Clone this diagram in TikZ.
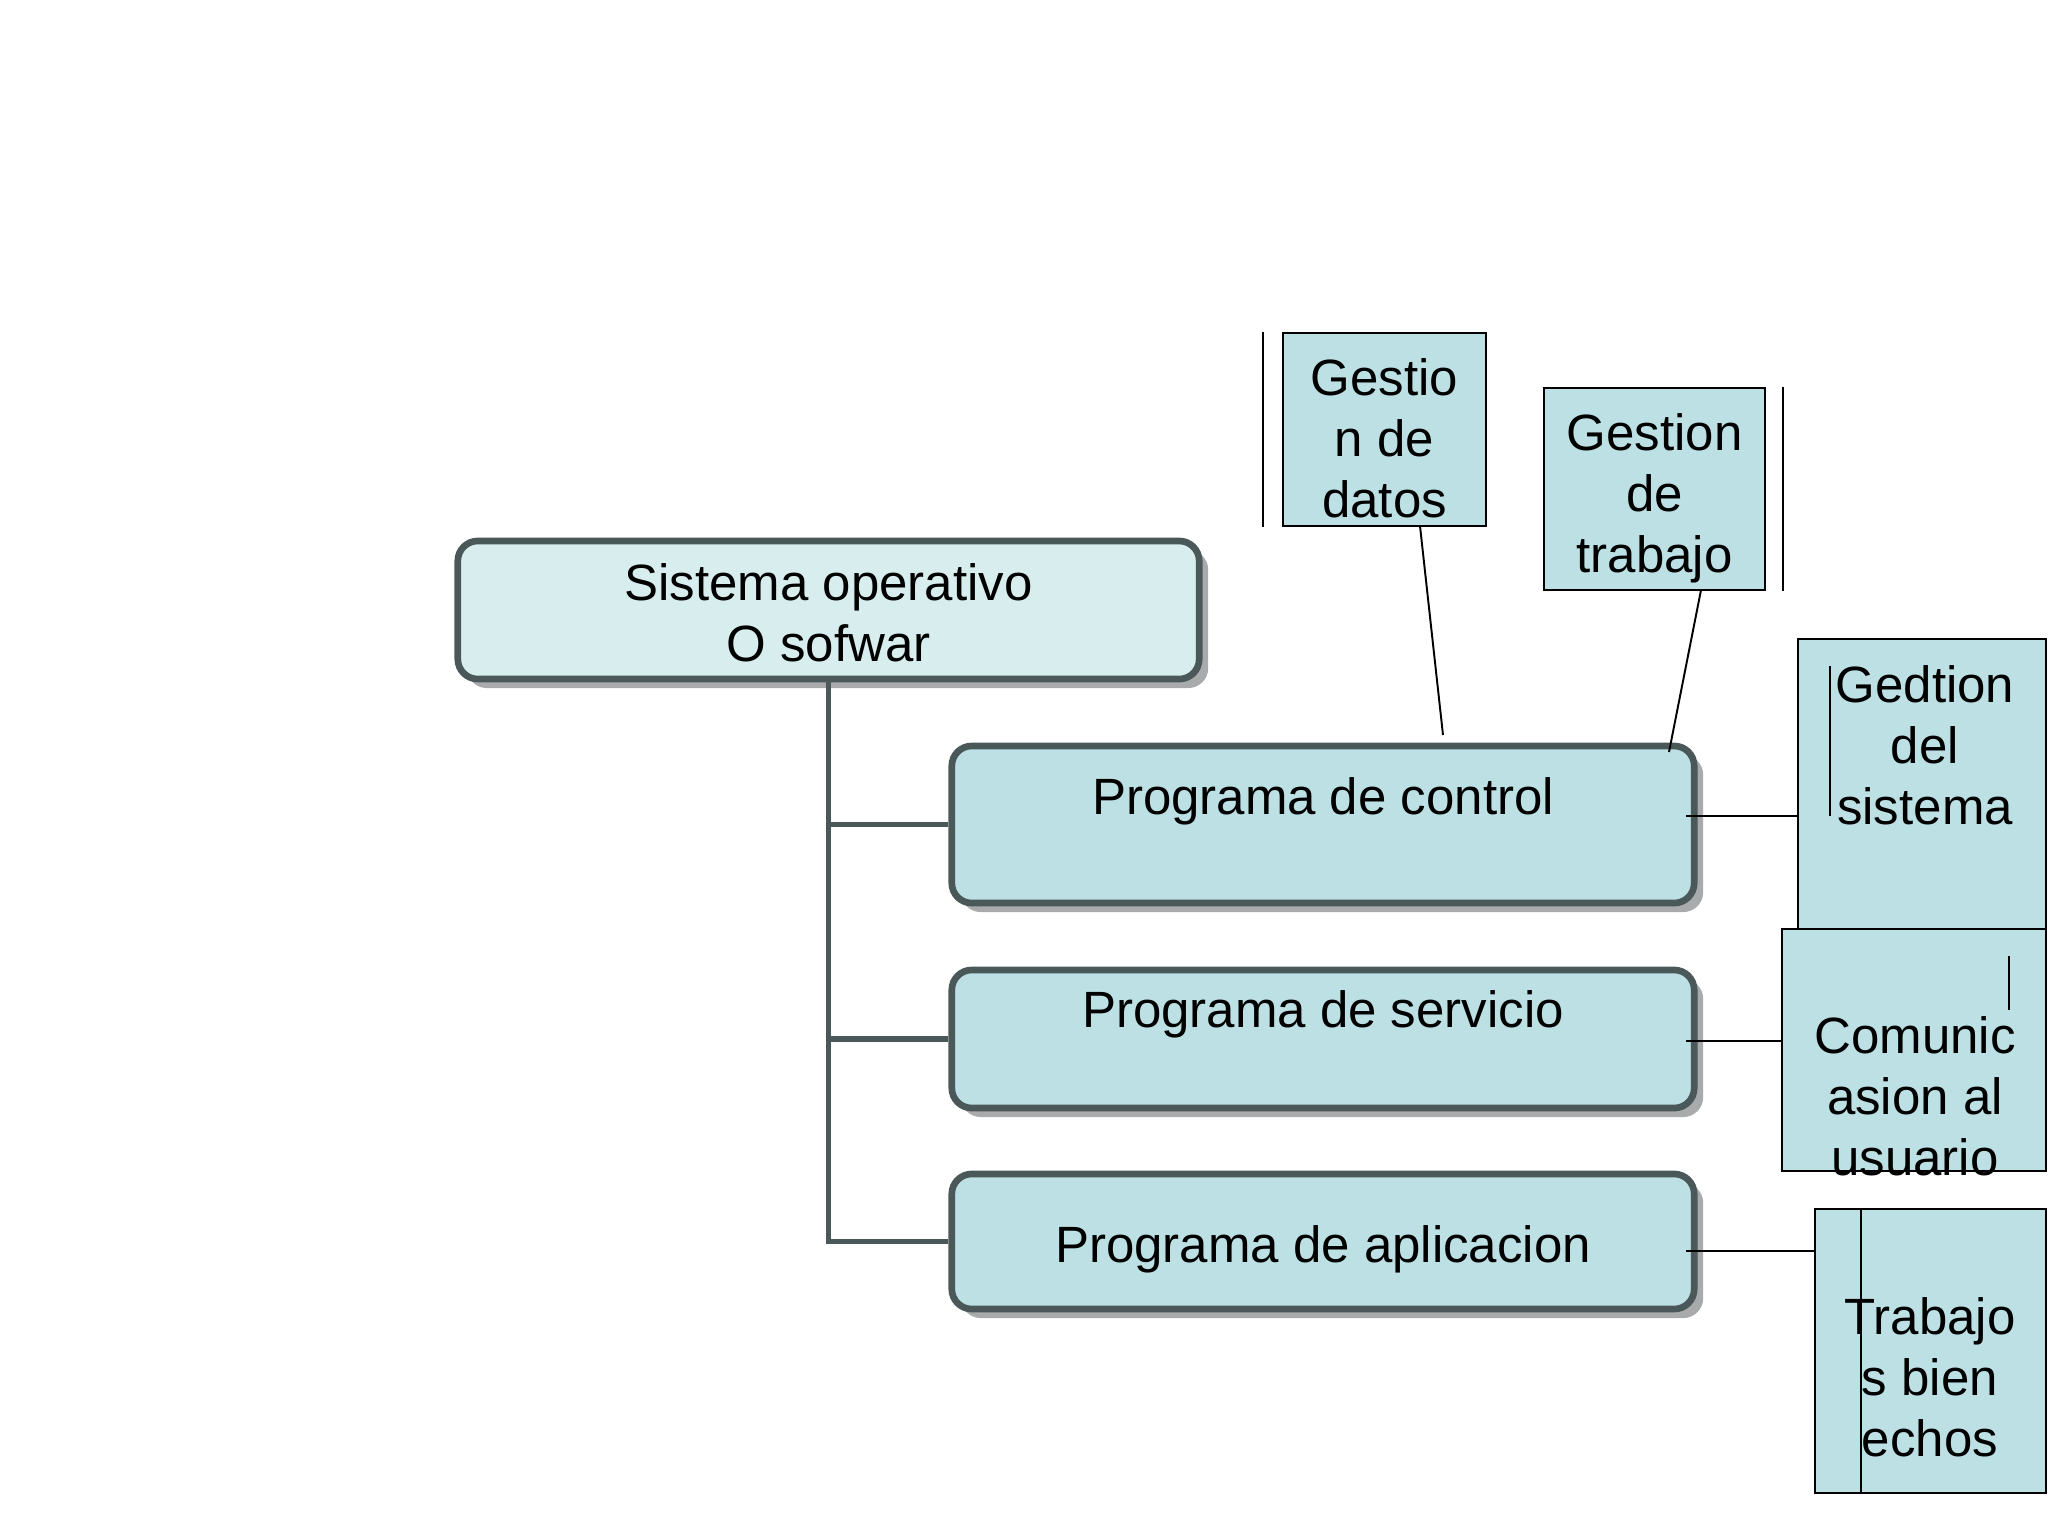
\documentclass[tikz,border=0pt]{standalone}
\usepackage{fontspec}
\setmainfont{Liberation Sans}
\usetikzlibrary{shadows}
\definecolor{bordc}{HTML}{4B5859}
\definecolor{rootc}{HTML}{D8EDED}
\definecolor{boxc}{HTML}{BCE0E3}
\definecolor{shadc}{HTML}{A9AAAC}
\tikzset{
  mainbox/.style={draw=bordc, line width=1.9pt, rounded corners=0.2cm, fill=boxc, inner sep=0pt,
    drop shadow={shadow xshift=0.09cm, shadow yshift=-0.09cm, fill=shadc, opacity=1}},
  smallbox/.style={draw=black, line width=0.6pt, fill=boxc, inner sep=0pt},
  txt/.style={align=center, inner sep=0pt, font=\fontsize{14.5pt}{17.4pt}\selectfont},
  trunk/.style={draw=bordc, line width=1.6pt},
  thin/.style={draw=black, line width=0.55pt},
}
\begin{document}
\begin{tikzpicture}[x=0.01cm,y=-0.01cm]
\useasboundingbox (0,0) rectangle (2048,1536);
\clip (0,0) rectangle (2048,1536);
\fill[white] (0,0) rectangle (2048,1536);

% main boxes
\node[mainbox, fill=rootc, minimum width=7.41cm, minimum height=1.38cm] (root) at (828.5,610) {};
\node[txt] (roott) at (828.5,613) {Sistema operativo\\O sofwar};

\node[mainbox, minimum width=7.42cm, minimum height=1.57cm] (ctrl) at (1323,824.5) {};
\node[txt] (ctrlt) at (1323,801) {Programa de control};

\node[mainbox, minimum width=7.42cm, minimum height=1.38cm] (serv) at (1323,1039) {};
\node[txt] (servt) at (1323,1014) {Programa de servicio};

\node[mainbox, minimum width=7.42cm, minimum height=1.35cm] (apl) at (1323,1241.5) {};
\node[txt] (aplt) at (1323,1249) {Programa de aplicacion};

% trunk connectors
\draw[trunk] (root.south) -- (root.south |- apl.west) -- (apl.west);
\draw[trunk] (root.south |- ctrl.west) -- (ctrl.west);
\draw[trunk] (root.south |- serv.west) -- (serv.west);

% small boxes
\node[smallbox, minimum width=2.03cm, minimum height=1.93cm] (gdatos) at (1384.5,429.5) {};
\node[txt] (gdatost) at (1384.5,438.5) {Gestio\\n de\\datos};

\node[smallbox, minimum width=2.21cm, minimum height=2.02cm] (gtrab) at (1654.5,489) {};
\node[txt] (gtrabt) at (1654.5,498) {Gestion\\de\\trabajo};

\node[smallbox, minimum width=2.48cm, minimum height=2.91cm] (gsis) at (1922,784.5) {};
\node[txt] (gsist) at (1925,745) {Gedtion\\del\\sistema};

\node[smallbox, minimum width=2.64cm, minimum height=2.42cm] (com) at (1914,1050) {};
\node[txt] (comt) at (1915,1096) {Comunic\\asion al\\usuario};

\node[smallbox, minimum width=2.31cm, minimum height=2.84cm] (trab) at (1930.5,1351) {};
\node[txt] (trabt) at (1930,1377) {Trabajo\\s bien\\echos};

% side bars
\draw[thin] (gdatos.north west) ++(-19,0) coordinate (gdl1) -- (gdatos.south west -| gdl1);
\draw[thin] (gtrab.north east) ++(17,0) coordinate (gtr1) -- (gtrab.south east -| gtr1);
\coordinate (gs1) at (1830,666);
\draw[thin] (gs1) -- (1830,816);
\coordinate (cm1) at (2009,956);
\draw[thin] (cm1) -- (2009,1010);
\draw[thin] (trab.north west) ++(47,0) coordinate (tb1) -- (trab.south west -| tb1);

% thin connectors
\coordinate (gd_b) at (1420,526);
\coordinate (gd_e) at (1443,735);
\draw[thin] (gd_b) -- (gd_e);
\coordinate (gt_b) at (1701,590);
\coordinate (gt_e) at (1669,752);
\draw[thin] (gt_b) -- (gt_e);

\coordinate (c1) at (1686,816);
\draw[thin] (c1) -- (c1 -| gsis.west);
\coordinate (c2) at (1686,1041);
\draw[thin] (c2) -- (c2 -| com.west);
\coordinate (c3) at (1686,1251);
\draw[thin] (c3) -- (c3 -| trab.west);
\end{tikzpicture}
\end{document}
